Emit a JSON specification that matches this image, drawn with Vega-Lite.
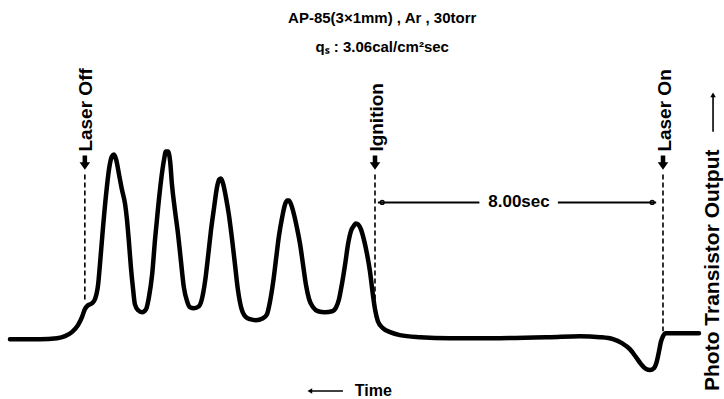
{
  "$schema": "https://vega.github.io/schema/vega-lite/v6.json",
  "width": 724,
  "height": 399,
  "padding": 0,
  "autosize": {"type": "fit", "contains": "padding"},
  "background": "white",
  "config": {"view": {"stroke": null}, "text": {"font": "Liberation Sans", "fontWeight": "bold", "color": "black"}},
  "datasets": {
    "curve": [
      {"t": 18.14, "v": -0.1}, {"t": 17.31, "v": -0.1}, {"t": 16.83, "v": 0.0}, {"t": 16.61, "v": 0.2},
      {"t": 16.42, "v": 0.6}, {"t": 16.25, "v": 1.3}, {"t": 16.14, "v": 2.1}, {"t": 16.06, "v": 2.9},
      {"t": 15.97, "v": 3.3}, {"t": 15.86, "v": 3.5}, {"t": 15.78, "v": 3.9}, {"t": 15.69, "v": 5.4},
      {"t": 15.64, "v": 7.4}, {"t": 15.56, "v": 10.9}, {"t": 15.47, "v": 14.4}, {"t": 15.39, "v": 16.9},
      {"t": 15.31, "v": 18.2}, {"t": 15.25, "v": 18.4}, {"t": 15.19, "v": 17.9}, {"t": 15.11, "v": 16.4},
      {"t": 15.03, "v": 14.9}, {"t": 14.94, "v": 13.4}, {"t": 14.89, "v": 11.9}, {"t": 14.83, "v": 9.4},
      {"t": 14.78, "v": 7.1}, {"t": 14.72, "v": 4.9}, {"t": 14.67, "v": 3.4}, {"t": 14.58, "v": 2.8},
      {"t": 14.47, "v": 2.6}, {"t": 14.36, "v": 2.9}, {"t": 14.28, "v": 4.1}, {"t": 14.19, "v": 6.4},
      {"t": 14.11, "v": 9.9}, {"t": 14.03, "v": 12.9}, {"t": 13.94, "v": 15.9}, {"t": 13.86, "v": 17.9},
      {"t": 13.81, "v": 18.7}, {"t": 13.75, "v": 18.7}, {"t": 13.69, "v": 17.7}, {"t": 13.64, "v": 15.4},
      {"t": 13.56, "v": 12.9}, {"t": 13.47, "v": 10.4}, {"t": 13.39, "v": 7.7}, {"t": 13.31, "v": 5.1},
      {"t": 13.22, "v": 3.7}, {"t": 13.14, "v": 3.1}, {"t": 13.03, "v": 3.0}, {"t": 12.89, "v": 3.2},
      {"t": 12.81, "v": 3.9}, {"t": 12.72, "v": 5.7}, {"t": 12.64, "v": 8.1}, {"t": 12.56, "v": 10.7},
      {"t": 12.47, "v": 13.1}, {"t": 12.39, "v": 15.1}, {"t": 12.33, "v": 15.9}, {"t": 12.28, "v": 16.0},
      {"t": 12.22, "v": 15.5}, {"t": 12.14, "v": 14.1}, {"t": 12.06, "v": 12.4}, {"t": 11.97, "v": 9.9},
      {"t": 11.89, "v": 7.4}, {"t": 11.81, "v": 4.9}, {"t": 11.72, "v": 3.1}, {"t": 11.61, "v": 2.2},
      {"t": 11.47, "v": 1.9}, {"t": 11.31, "v": 1.8}, {"t": 11.11, "v": 2.0}, {"t": 11.0, "v": 2.4},
      {"t": 10.92, "v": 3.6}, {"t": 10.83, "v": 5.6}, {"t": 10.75, "v": 7.9}, {"t": 10.67, "v": 10.2},
      {"t": 10.58, "v": 12.1}, {"t": 10.5, "v": 13.4}, {"t": 10.44, "v": 13.8}, {"t": 10.39, "v": 13.8},
      {"t": 10.33, "v": 13.4}, {"t": 10.25, "v": 12.4}, {"t": 10.17, "v": 11.1}, {"t": 10.08, "v": 9.4},
      {"t": 10.0, "v": 7.4}, {"t": 9.92, "v": 5.4}, {"t": 9.83, "v": 3.9}, {"t": 9.72, "v": 3.1},
      {"t": 9.58, "v": 2.7}, {"t": 9.39, "v": 2.6}, {"t": 9.19, "v": 2.7}, {"t": 9.08, "v": 3.1},
      {"t": 9.0, "v": 3.9}, {"t": 8.92, "v": 5.4}, {"t": 8.83, "v": 7.4}, {"t": 8.75, "v": 9.4},
      {"t": 8.67, "v": 10.7}, {"t": 8.58, "v": 11.3}, {"t": 8.53, "v": 11.5}, {"t": 8.47, "v": 11.4},
      {"t": 8.39, "v": 10.9}, {"t": 8.31, "v": 9.9}, {"t": 8.22, "v": 8.4}, {"t": 8.14, "v": 6.7},
      {"t": 8.06, "v": 4.4}, {"t": 8.0, "v": 2.9}, {"t": 7.92, "v": 1.7}, {"t": 7.78, "v": 1.0},
      {"t": 7.58, "v": 0.6}, {"t": 7.31, "v": 0.3}, {"t": 6.75, "v": 0.1}, {"t": 5.92, "v": 0.0},
      {"t": 4.53, "v": 0.0}, {"t": 3.14, "v": 0.1}, {"t": 2.31, "v": 0.2}, {"t": 1.75, "v": 0.1},
      {"t": 1.39, "v": -0.1}, {"t": 1.14, "v": -0.5}, {"t": 0.92, "v": -1.1}, {"t": 0.75, "v": -1.9},
      {"t": 0.61, "v": -2.6}, {"t": 0.47, "v": -3.1}, {"t": 0.36, "v": -3.2}, {"t": 0.25, "v": -3.0},
      {"t": 0.17, "v": -2.3}, {"t": 0.11, "v": -1.3}, {"t": 0.06, "v": -0.4}, {"t": 0.0, "v": 0.2},
      {"t": -0.08, "v": 0.5}, {"t": -0.19, "v": 0.5}, {"t": -1.0, "v": 0.5}
    ],
    "markers": [
      {"event": "Laser Off", "t": 16.06, "top": 16.4, "bottom": 3.6, "arrow": 17.6, "labelY": 18.7, "labelT": 16.03},
      {"event": "Ignition", "t": 8.0, "top": 16.4, "bottom": 3.9, "arrow": 17.6, "labelY": 18.7, "labelT": 7.94},
      {"event": "Laser On", "t": 0.0, "top": 16.4, "bottom": 0.7, "arrow": 17.6, "labelY": 18.7, "labelT": -0.06}
    ],
    "interval": [
      {"t": 7.92, "t2": 5.1}, {"t": 2.92, "t2": 0.19}
    ],
    "intervalEnds": [
      {"t": 7.8}, {"t": 0.3}
    ],
    "texts": [
      {"label": "AP-85(3×1mm) , Ar , 30torr", "t": 7.8, "v": 32.1, "size": 15},
      {"label": "qₛ : 3.06cal/cm²sec", "t": 7.8, "v": 29.2, "size": 15},
      {"label": "8.00sec", "t": 4.0, "v": 13.6, "size": 17}
    ]
  },
  "layer": [
    {
      "data": {"name": "curve"},
      "mark": {"type": "line", "color": "black", "strokeWidth": 4.5, "interpolate": "monotone", "strokeCap": "round", "strokeJoin": "round"},
      "encoding": {
        "x": {"field": "t", "type": "quantitative", "scale": {"domain": [-1.6944, 18.4167], "reverse": true, "nice": false, "zero": false}, "axis": null},
        "y": {"field": "v", "type": "quantitative", "scale": {"domain": [-6.0, 33.9], "nice": false, "zero": false}, "axis": null}
      }
    },
    {
      "data": {"name": "markers"},
      "mark": {"type": "rule", "color": "black", "strokeWidth": 1.6, "strokeDash": [5, 3]},
      "encoding": {
        "x": {"field": "t", "type": "quantitative"},
        "y": {"field": "top", "type": "quantitative"},
        "y2": {"field": "bottom"}
      }
    },
    {
      "data": {"name": "markers"},
      "mark": {"type": "point", "filled": true, "color": "black", "opacity": 1, "size": 200, "shape": "M-0.32,-1L0.32,-1L0.32,-0.05L0.75,-0.05L0,1L-0.75,-0.05L-0.32,-0.05Z"},
      "encoding": {
        "x": {"field": "t", "type": "quantitative"},
        "y": {"field": "arrow", "type": "quantitative"}
      }
    },
    {
      "data": {"name": "markers"},
      "mark": {"type": "text", "angle": 270, "align": "left", "baseline": "middle", "fontSize": 19},
      "encoding": {
        "x": {"field": "labelT", "type": "quantitative"},
        "y": {"field": "labelY", "type": "quantitative"},
        "text": {"field": "event"}
      }
    },
    {
      "data": {"name": "interval"},
      "mark": {"type": "rule", "color": "black", "strokeWidth": 2},
      "encoding": {
        "x": {"field": "t", "type": "quantitative"},
        "x2": {"field": "t2"},
        "y": {"datum": 13.6, "type": "quantitative"}
      }
    },
    {
      "data": {"name": "intervalEnds"},
      "mark": {"type": "point", "filled": false, "color": "black", "strokeWidth": 1.5, "size": 14, "opacity": 1},
      "encoding": {
        "x": {"field": "t", "type": "quantitative"},
        "y": {"datum": 13.6, "type": "quantitative"}
      }
    },
    {
      "data": {"name": "texts"},
      "mark": {"type": "text", "align": "center", "baseline": "middle"},
      "encoding": {
        "x": {"field": "t", "type": "quantitative"},
        "y": {"field": "v", "type": "quantitative"},
        "text": {"field": "label"},
        "size": {"field": "size", "type": "quantitative", "scale": null}
      }
    },
    {
      "data": {"values": [{"label": "Photo Transistor Output", "t": -1.39, "v": -5.3, "a0": 20.7, "a1": 24.4}]},
      "layer": [
        {
          "mark": {"type": "text", "angle": 270, "align": "left", "baseline": "middle", "fontSize": 21},
          "encoding": {
            "x": {"field": "t", "type": "quantitative"},
            "y": {"field": "v", "type": "quantitative"},
            "text": {"field": "label"}
          }
        },
        {
          "mark": {"type": "rule", "color": "black", "strokeWidth": 1.6},
          "encoding": {
            "x": {"field": "t", "type": "quantitative"},
            "y": {"field": "a0", "type": "quantitative"},
            "y2": {"field": "a1"}
          }
        },
        {
          "mark": {"type": "point", "shape": "triangle-up", "filled": true, "color": "black", "opacity": 1, "size": 30},
          "encoding": {
            "x": {"field": "t", "type": "quantitative"},
            "y": {"field": "a1", "type": "quantitative"}
          }
        }
      ]
    },
    {
      "data": {"values": [{"label": "Time", "t": 8.56, "v": -5.3, "a0": 8.89, "a1": 9.81}]},
      "layer": [
        {
          "mark": {"type": "text", "align": "left", "baseline": "middle", "fontSize": 16},
          "encoding": {
            "x": {"field": "t", "type": "quantitative"},
            "y": {"field": "v", "type": "quantitative"},
            "text": {"field": "label"}
          }
        },
        {
          "mark": {"type": "rule", "color": "black", "strokeWidth": 1.6},
          "encoding": {
            "x": {"field": "a0", "type": "quantitative"},
            "x2": {"field": "a1"},
            "y": {"field": "v", "type": "quantitative"}
          }
        },
        {
          "mark": {"type": "point", "shape": "triangle-left", "filled": true, "color": "black", "opacity": 1, "size": 30},
          "encoding": {
            "x": {"field": "a1", "type": "quantitative"},
            "y": {"field": "v", "type": "quantitative"}
          }
        }
      ]
    }
  ]
}
